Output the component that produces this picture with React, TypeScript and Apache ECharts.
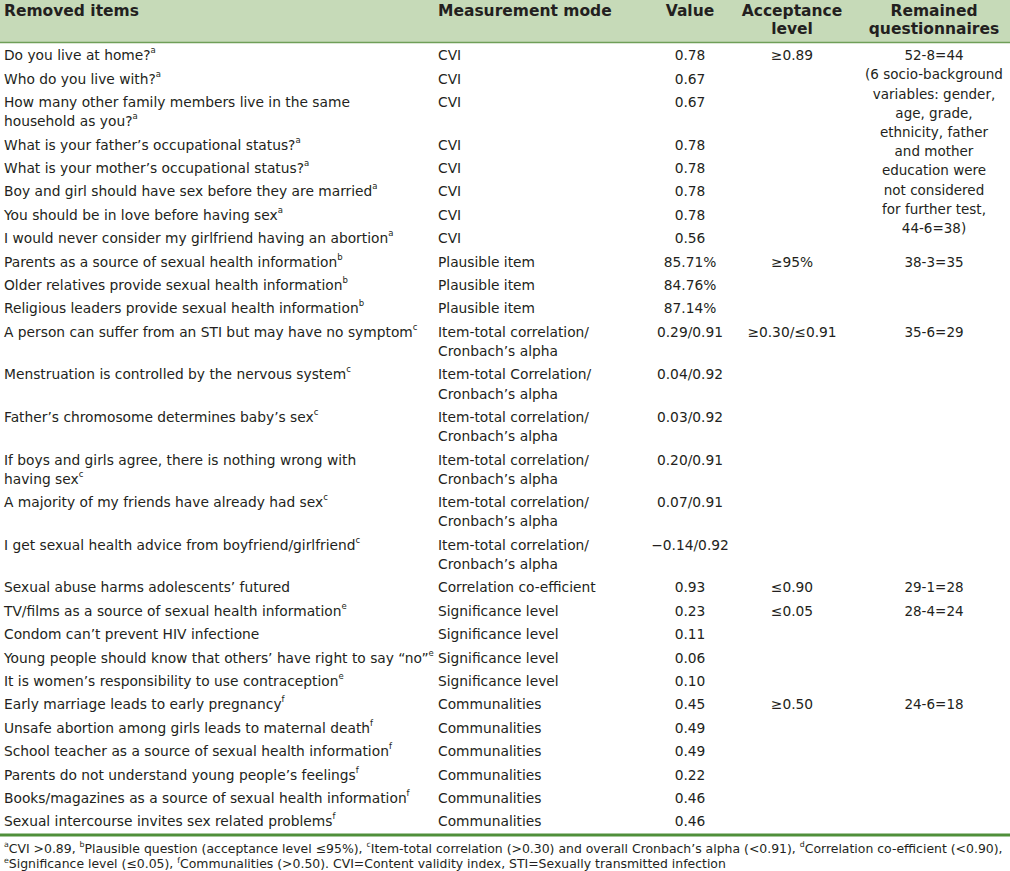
import React, { useEffect, useRef } from 'react';
import * as echarts from 'echarts';

const headers: string[] = ['Removed items', 'Measurement mode', 'Value', 'Acceptance\nlevel', 'Remained\nquestionnaires'];

const removedItems: string[] = [
  'Do you live at home?',
  'Who do you live with?',
  'How many other family members live in the same\nhousehold as you?',
  'What is your father’s occupational status?',
  'What is your mother’s occupational status?',
  'Boy and girl should have sex before they are married',
  'You should be in love before having sex',
  'I would never consider my girlfriend having an abortion',
  'Parents as a source of sexual health information',
  'Older relatives provide sexual health information',
  'Religious leaders provide sexual health information',
  'A person can suffer from an STI but may have no symptom',
  'Menstruation is controlled by the nervous system',
  'Father’s chromosome determines baby’s sex',
  'If boys and girls agree, there is nothing wrong with\nhaving sex',
  'A majority of my friends have already had sex',
  'I get sexual health advice from boyfriend/girlfriend',
  'Sexual abuse harms adolescents’ futured',
  'TV/films as a source of sexual health information',
  'Condom can’t prevent HIV infectione',
  'Young people should know that others’ have right to say “no”',
  'It is women’s responsibility to use contraception',
  'Early marriage leads to early pregnancy',
  'Unsafe abortion among girls leads to maternal death',
  'School teacher as a source of sexual health information',
  'Parents do not understand young people’s feelings',
  'Books/magazines as a source of sexual health information',
  'Sexual intercourse invites sex related problems',
];

const itemNotes: string[] = [
  'a', 'a', 'a', 'a', 'a', 'a', 'a', 'a',
  'b', 'b', 'b',
  'c', 'c', 'c', 'c', 'c', 'c',
  '', 'e', '', 'e', 'e',
  'f', 'f', 'f', 'f', 'f', 'f',
];

const measurementModes: string[] = [
  'CVI', 'CVI', 'CVI', 'CVI', 'CVI', 'CVI', 'CVI', 'CVI',
  'Plausible item', 'Plausible item', 'Plausible item',
  'Item-total correlation/\nCronbach’s alpha',
  'Item-total Correlation/\nCronbach’s alpha',
  'Item-total correlation/\nCronbach’s alpha',
  'Item-total correlation/\nCronbach’s alpha',
  'Item-total correlation/\nCronbach’s alpha',
  'Item-total correlation/\nCronbach’s alpha',
  'Correlation co-efficient',
  'Significance level', 'Significance level', 'Significance level', 'Significance level',
  'Communalities', 'Communalities', 'Communalities', 'Communalities', 'Communalities', 'Communalities',
];

const values: string[] = [
  '0.78', '0.67', '0.67', '0.78', '0.78', '0.78', '0.78', '0.56',
  '85.71%', '84.76%', '87.14%',
  '0.29/0.91', '0.04/0.92', '0.03/0.92', '0.20/0.91', '0.07/0.91', '−0.14/0.92',
  '0.93',
  '0.23', '0.11', '0.06', '0.10',
  '0.45', '0.49', '0.49', '0.22', '0.46', '0.46',
];

const acceptanceLevels: string[] = [
  '≥0.89', '', '', '', '', '', '', '',
  '≥95%', '', '',
  '≥0.30/≤0.91', '', '', '', '', '',
  '≤0.90',
  '≤0.05', '', '', '',
  '≥0.50', '', '', '', '', '',
];

const remainedQuestionnaires: string[] = [
  '52-8=44\n(6 socio-background\nvariables: gender,\nage, grade,\nethnicity, father\nand mother\neducation were\nnot considered\nfor further test,\n44-6=38)',
  '', '', '', '', '', '', '',
  '38-3=35', '', '',
  '35-6=29', '', '', '', '', '',
  '29-1=28',
  '28-4=24', '', '', '',
  '24-6=18', '', '', '', '', '',
];

const footnotes: string[] = [
  '{s|a}CVI >0.89, {s|b}Plausible question (acceptance level ≤95%), {s|c}Item-total correlation (>0.30) and overall Cronbach’s alpha (<0.91), {s|d}Correlation co-efficient (<0.90),',
  '{s|e}Significance level (≤0.05), {s|f}Communalities (>0.50). CVI=Content validity index, STI=Sexually transmitted infection',
];

const FONT = 'DejaVu Sans';
const TEXT = '#231f20';
const LH = 19.2;
const PAD = 4.2;

function buildGraphic() {
  const els: any[] = [];
  els.push({ type: 'rect', shape: { x: 0, y: 0, width: 1010, height: 42 }, style: { fill: '#c6dab8' }, silent: true });
  els.push({ type: 'line', shape: { x1: 0, y1: 42.5, x2: 1010, y2: 42.5 }, style: { stroke: '#6f9f58', lineWidth: 1.5 }, silent: true });

  const colX = [4, 438, 690, 792, 934];
  const colAlign = ['left', 'left', 'center', 'center', 'center'];
  headers.forEach((h, i) => {
    els.push({
      type: 'text', x: colX[i], y: 2,
      style: { text: h, fontFamily: FONT, fontSize: 15.5, fontWeight: 'bold', fill: TEXT, align: colAlign[i], verticalAlign: 'top', lineHeight: 18 },
    });
  });

  const rich = { s: { fontSize: 8.5, lineHeight: 13, verticalAlign: 'top', fontFamily: FONT, fill: TEXT } };
  let y = 45.6;
  removedItems.forEach((item, i) => {
    const lines = Math.max(item.split('\n').length, measurementModes[i].split('\n').length);
    const note = itemNotes[i] ? `{s|${itemNotes[i]}}` : '';
    const base = { fontFamily: FONT, fontSize: 13.8, fill: TEXT, verticalAlign: 'top', lineHeight: LH };
    els.push({ type: 'text', x: colX[0], y, style: { ...base, text: item + note, align: 'left', rich } });
    els.push({ type: 'text', x: colX[1], y, style: { ...base, text: measurementModes[i], align: 'left' } });
    els.push({ type: 'text', x: colX[2], y, style: { ...base, text: values[i], align: 'center' } });
    if (acceptanceLevels[i]) els.push({ type: 'text', x: colX[3], y, style: { ...base, text: acceptanceLevels[i], align: 'center' } });
    if (remainedQuestionnaires[i]) els.push({ type: 'text', x: colX[4], y, style: { ...base, fontSize: 13.5, text: remainedQuestionnaires[i], align: 'center' } });
    y += PAD + lines * LH;
  });

  els.push({ type: 'line', shape: { x1: 0, y1: 835, x2: 1010, y2: 835 }, style: { stroke: '#4f8f3a', lineWidth: 3 }, silent: true });

  footnotes.forEach((f, i) => {
    els.push({
      type: 'text', x: 4, y: 848 + i * 15.5,
      style: {
        text: f, fontFamily: FONT, fontSize: 12.45, fill: TEXT, align: 'left', verticalAlign: 'middle', lineHeight: 15,
        rich: { s: { fontSize: 7.8, lineHeight: 14, verticalAlign: 'top', fontFamily: FONT, fill: TEXT } },
      },
    });
  });
  return els;
}

export default function App() {
  const ref = useRef<HTMLDivElement>(null);
  useEffect(() => {
    if (!ref.current) return;
    const chart = echarts.init(ref.current, undefined, { renderer: 'svg' });
    chart.setOption({
      animation: false,
      backgroundColor: '#ffffff',
      graphic: { elements: buildGraphic() },
    });
    return () => chart.dispose();
  }, []);
  return <div ref={ref} style={{ position: 'absolute', left: 0, top: 0, width: 1010, height: 871 }} />;
}
